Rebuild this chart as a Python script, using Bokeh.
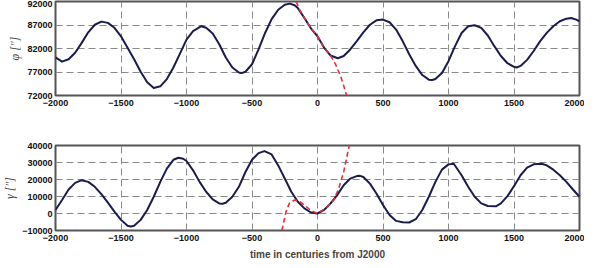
from bokeh.plotting import figure
from bokeh.layouts import column
from bokeh.models import FixedTicker, BasicTickFormatter
from bokeh.embed import file_html
from bokeh.resources import INLINE

# ---- data ----
phi_t = [-2000, -1950, -1900, -1850, -1800, -1750, -1700, -1650, -1600, -1550, -1500, -1450,
         -1400, -1350, -1300, -1250, -1200, -1150, -1100, -1050, -1000, -950, -887, -850,
         -800, -750, -700, -650, -600, -580, -550, -500, -450, -400, -350, -300, -250,
         -212, -175, -150, -100, -50, 0, 50, 100, 155, 200, 250, 300, 350, 400, 450, 500,
         550, 600, 650, 700, 750, 800, 850, 875, 900, 950, 1000, 1050, 1100, 1150, 1200,
         1250, 1300, 1350, 1400, 1450, 1500, 1520, 1550, 1600, 1650, 1700, 1750, 1800,
         1850, 1900, 1937, 1975, 2000]
phi_v = [80100, 79200, 79700, 81100, 83200, 85450, 87050, 87720, 87450, 86400, 84600, 82150,
         79700, 77050, 74800, 73600, 73950, 75500, 77950, 80900, 83900, 85700, 86740, 86400,
         85200, 82900, 80100, 77950, 76900, 76770, 77050, 78650, 81800, 85300, 88250, 90250,
         91300, 91550, 91200, 90600, 88500, 86300, 84600, 82200, 80500, 79930, 80400, 81800,
         83580, 85450, 87050, 88000, 88150, 87580, 86030, 83580, 80770, 78300, 76350, 75370,
         75300, 75500, 76770, 79300, 82500, 85300, 86740, 86950, 86390, 84770, 82500, 80400,
         78870, 78100, 77960, 78300, 79580, 81470, 83580, 85330, 86740, 87790, 88350, 88500,
         88150, 87800]

phi_poly_t = [-162, -140, -100, -50, 0, 50, 100, 140, 175, 200, 222]
phi_poly_v = [92000, 90400, 88500, 86300, 84600, 82200, 80500, 78500, 76200, 74100, 72000]

gam_t = [-2000, -1950, -1900, -1850, -1800, -1750, -1700, -1650, -1600, -1550, -1500, -1450,
         -1425, -1400, -1350, -1300, -1250, -1200, -1150, -1100, -1062, -1025, -1000, -950,
         -900, -850, -800, -750, -725, -700, -650, -600, -550, -500, -450, -405, -350, -300,
         -250, -200, -150, -100, -50, 0, 50, 100, 150, 200, 250, 300, 325, 350, 400, 450,
         500, 550, 600, 650, 700, 750, 800, 850, 900, 950, 1000, 1040, 1100, 1150, 1200,
         1250, 1300, 1362, 1400, 1450, 1500, 1550, 1600, 1650, 1712, 1750, 1800, 1850, 1900,
         1950, 2000]
gam_v = [2100, 7900, 14100, 18000, 19600, 18600, 15700, 11400, 6350, 1100, -3750, -7250,
         -7650, -7250, -3750, 2100, 9850, 18600, 26400, 31600, 32800, 32200, 30900, 25400,
         18600, 12800, 8300, 5950, 5770, 6350, 9850, 15700, 24400, 31600, 35500, 36700, 34750,
         28300, 20550, 12800, 6950, 3000, 600, 0, 2070, 5960, 10800, 16660, 20550, 22000,
         22150, 21500, 17600, 11800, 5000, -840, -4350, -5200, -5300, -3370, 2070, 9850,
         18600, 25800, 28900, 29300, 22500, 15700, 9850, 5960, 4400, 4210, 5960, 10240, 16080,
         22490, 26970, 28910, 29300, 28330, 25800, 22490, 18600, 14130, 9850]

gam_poly_t = [-272, -240, -215, -177, -140, -100, -50, 0, 62, 125, 162, 200, 237, 243]
gam_poly_v = [-10000, 1100, 5960, 7900, 7330, 5000, 1680, 100, 3040, 7910, 14710, 24440, 38050, 40000]

x_ticks = [-2000, -1500, -1000, -500, 0, 500, 1000, 1500, 2000]
phi_ticks = [72000, 77000, 82000, 87000, 92000]
gam_ticks = [-10000, 0, 10000, 20000, 30000, 40000]

BLACK = "#1b1b4d"
RED = "#e0303a"


def style(p, yticks, ylabel):
    p.xaxis.ticker = FixedTicker(ticks=x_ticks)
    p.yaxis.ticker = FixedTicker(ticks=yticks)
    p.yaxis.formatter = BasicTickFormatter(use_scientific=False)
    for ax in (p.xaxis, p.yaxis):
        ax.axis_line_color = None
        ax.major_tick_line_color = None
        ax.minor_tick_line_color = None
        ax.major_tick_out = 0
        ax.major_tick_in = 0
        ax.minor_tick_out = 0
        ax.minor_tick_in = 0
        ax.major_label_text_font = "Liberation Sans"
        ax.major_label_text_font_style = "bold"
        ax.major_label_text_font_size = "9px"
        ax.major_label_text_color = "#111111"
        ax.major_label_standoff = 4
    p.yaxis.major_label_standoff = 3
    p.yaxis.axis_label = ylabel
    p.yaxis.axis_label_text_font = "Liberation Serif"
    p.yaxis.axis_label_text_font_style = "italic"
    p.yaxis.axis_label_text_font_size = "12px"
    p.yaxis.axis_label_standoff = 2
    p.outline_line_color = "#555555"
    p.outline_line_width = 2
    for g in (p.xgrid, p.ygrid):
        g.grid_line_color = "#8a8a8a"
        g.grid_line_dash = "7 4"
        g.grid_line_width = 1
    p.background_fill_color = "white"
    p.border_fill_color = "white"


p1 = figure(width=584, height=116, output_backend="svg", toolbar_location=None,
            x_range=(-2000, 2000), y_range=(72000, 92000),
            min_border_left=47, min_border_right=5, min_border_top=1, min_border_bottom=21)
style(p1, phi_ticks, "φ [″]")
p1.line(phi_t, phi_v, line_color=BLACK, line_width=2, line_join="round")
p1.line(phi_poly_t, phi_poly_v, line_color=RED, line_width=1.6, line_dash="5 3")

p2 = figure(width=584, height=148, output_backend="svg", toolbar_location=None,
            x_range=(-2000, 2000), y_range=(-10000, 40000),
            min_border_left=47, min_border_right=5, min_border_top=29, min_border_bottom=34)
style(p2, gam_ticks, "γ [″]")
p2.xaxis.axis_label = "time in centuries from J2000"
p2.xaxis.axis_label_text_font = "Liberation Sans"
p2.xaxis.axis_label_text_font_style = "bold"
p2.xaxis.axis_label_text_font_size = "10px"
p2.xaxis.axis_label_standoff = 5
p2.line(gam_t, gam_v, line_color=BLACK, line_width=2, line_join="round")
p2.line(gam_poly_t, gam_poly_v, line_color=RED, line_width=1.6, line_dash="5 3")

layout = column(p1, p2, spacing=0)
open("out.html", "w").write(file_html(layout, INLINE))
